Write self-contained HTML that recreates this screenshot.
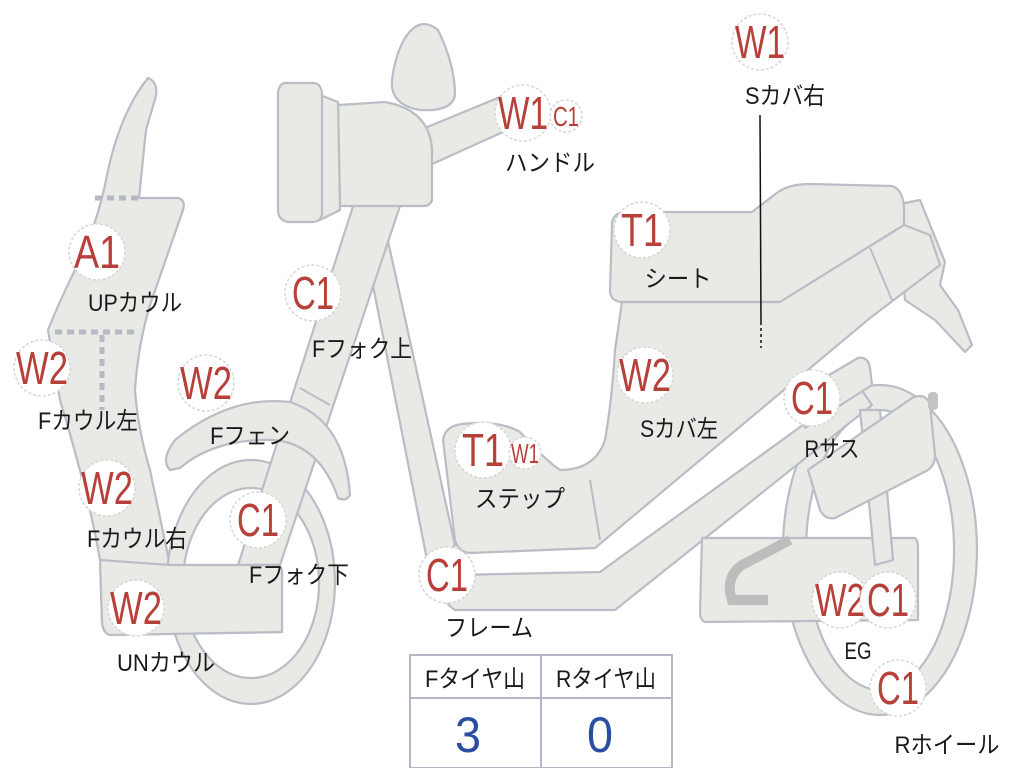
<!DOCTYPE html>
<html><head><meta charset="utf-8"><style>
html,body{margin:0;padding:0;background:#fff;}
svg{display:block;}
.s{fill:#e9e9e5;stroke:#b9bdc6;stroke-width:2.2;stroke-linejoin:round;}
.b{fill:#fff;stroke:#d6d6d6;stroke-width:1.5;stroke-dasharray:3 2;}
.r{fill:#b8403a;font-family:"Liberation Sans",sans-serif;font-size:46px;text-anchor:middle;}
.rs{fill:#b8403a;font-family:"Liberation Sans",sans-serif;font-size:28px;text-anchor:middle;}
.l{fill:#1a1a1a;font-family:"Liberation Sans","Noto Sans CJK JP",sans-serif;font-size:24px;text-anchor:middle;}
.n{fill:#2a4ea0;font-family:"Liberation Sans",sans-serif;font-size:50px;text-anchor:middle;}
</style></head><body>
<svg width="1024" height="768" viewBox="0 0 1024 768" xmlns="http://www.w3.org/2000/svg">
<path class="s" fill-rule="evenodd" d="M880,385 a97,165 0 1,1 -0.1,0 Z M880,410 a74,140 0 1,0 0.1,0 Z"/>
<path class="s" d="M895,205 L920,200 L945,262 L940,285 L958,310 L972,345 L965,352 L935,320 L905,300 Z"/>
<path class="s" d="M612,225 Q612,212 628,212 L752,212 L778,192 Q790,184 810,184 L892,186 Q905,190 904,215 L904,225 L780,302 L620,302 Q610,300 610,290 Z"/>
<path class="s" d="M622,302 L780,302 L904,225 L930,235 L940,265 L870,318 L595,548 L470,553 Q458,552 455,540 L443,440 Q445,426 462,424 Q500,420 520,432 Q545,460 560,470 Q595,470 605,440 Q612,400 615,350 Z"/>
<line x1="870" y1="248" x2="892" y2="300" stroke="#b9bdc6" stroke-width="2"/>
<line x1="590" y1="480" x2="600" y2="540" stroke="#b9bdc6" stroke-width="2"/>
<path class="s" d="M366,250 L386,232 L455,545 L430,575 Z"/>
<path class="s" d="M455,575 L600,572 L858,385 L872,405 L615,610 L455,610 Q440,600 445,585 Z"/>
<path class="s" d="M800,392 L858,358 Q868,356 870,368 L872,385 L805,428 Z"/>
<path class="s" d="M702,538 L915,538 Q918,540 918,548 L918,620 L705,622 Q700,620 700,612 Z"/>
<path d="M790,540 L742,565 Q728,575 730,592 L732,600 L768,600" fill="none" stroke="#bdbdbd" stroke-width="10"/>
<path class="s" d="M860,410 L880,410 L893,560 L875,565 Z"/>
<path class="s" d="M808,470 L912,398 Q925,392 930,404 L935,455 Q935,465 928,470 L835,518 Q825,520 820,510 Z"/>
<rect x="928" y="392" width="10" height="18" rx="4" fill="#c4c4c4"/>
<path class="s" d="M148,78 Q158,82 156,96 L146,130 L139,198 L178,198 Q186,200 183,210 L150,305 Q138,345 135,390 Q138,430 150,470 L170,565 L278,565 Q282,567 282,572 L282,632 L110,635 Q103,633 102,622 L100,560 Q90,500 60,400 L48,330 Q60,300 75,270 Q95,230 105,185 Q118,115 148,78 Z"/>
<g stroke="#b5b9c4" stroke-width="5" stroke-dasharray="7 5" fill="none">
<line x1="95" y1="198" x2="140" y2="198"/>
<line x1="55" y1="332" x2="138" y2="332"/>
<line x1="102" y1="335" x2="102" y2="410"/>
</g>
<path class="s" fill-rule="evenodd" d="M251,460 a84,122 0 1,1 -0.1,0 Z M251,488 a68,95 0 1,0 0.1,0 Z"/>
<path class="s" d="M355,200 L402,200 L280,565 L238,565 Z"/>
<line x1="300" y1="388" x2="330" y2="405" stroke="#b9bdc6" stroke-width="2"/>
<path class="s" d="M170,470 Q160,460 175,440 Q230,395 290,402 Q345,420 350,495 Q346,502 338,498 Q320,445 275,440 Q215,438 180,468 Z"/>
<path class="s" d="M170,565 L278,565 Q282,567 282,572 L282,632 L110,635 Q103,633 102,622 L100,560 Z"/>
<path class="s" d="M420,130 L505,95 L512,128 L430,165 Z"/>
<path class="s" d="M405,38 Q420,15 438,30 Q455,65 455,95 Q452,112 420,110 Q390,105 392,80 Q395,55 405,38 Z"/>
<path class="s" d="M338,105 L385,102 Q430,110 432,150 L432,200 Q430,206 424,206 L340,206 Z"/>
<path class="s" d="M320,95 L338,102 L340,210 L320,220 Z"/>
<path class="s" d="M285,83 L315,83 Q322,85 322,95 L322,215 Q320,222 312,222 L288,222 Q278,220 278,210 L278,92 Q280,83 285,83 Z"/>
<line x1="760" y1="115" x2="761" y2="325" stroke="#111" stroke-width="1.5"/>
<line x1="761" y1="328" x2="761" y2="348" stroke="#111" stroke-width="1.5" stroke-dasharray="3 3"/>
<g>
<circle class="b" cx="760" cy="42" r="28"/><text class="r" x="760" y="58" textLength="50" lengthAdjust="spacingAndGlyphs">W1</text>
<circle class="b" cx="523" cy="113" r="28"/><text class="r" x="523" y="129" textLength="50" lengthAdjust="spacingAndGlyphs">W1</text>
<circle class="b" cx="566" cy="116" r="16"/><text class="rs" x="566" y="126" textLength="26" lengthAdjust="spacingAndGlyphs">C1</text>
<circle class="b" cx="97" cy="252" r="28"/><text class="r" x="97" y="268" textLength="46" lengthAdjust="spacingAndGlyphs">A1</text>
<circle class="b" cx="313" cy="293" r="28"/><text class="r" x="313" y="309" textLength="42" lengthAdjust="spacingAndGlyphs">C1</text>
<circle class="b" cx="42" cy="368" r="28"/><text class="r" x="42" y="384" textLength="52" lengthAdjust="spacingAndGlyphs">W2</text>
<circle class="b" cx="206" cy="383" r="28"/><text class="r" x="206" y="399" textLength="52" lengthAdjust="spacingAndGlyphs">W2</text>
<circle class="b" cx="642" cy="230" r="28"/><text class="r" x="642" y="246" textLength="42" lengthAdjust="spacingAndGlyphs">T1</text>
<circle class="b" cx="645" cy="375" r="28"/><text class="r" x="645" y="391" textLength="52" lengthAdjust="spacingAndGlyphs">W2</text>
<circle class="b" cx="812" cy="398" r="28"/><text class="r" x="812" y="414" textLength="42" lengthAdjust="spacingAndGlyphs">C1</text>
<circle class="b" cx="483" cy="450" r="28"/><text class="r" x="483" y="466" textLength="42" lengthAdjust="spacingAndGlyphs">T1</text>
<circle class="b" cx="525" cy="453" r="16"/><text class="rs" x="525" y="463" textLength="28" lengthAdjust="spacingAndGlyphs">W1</text>
<circle class="b" cx="107" cy="488" r="28"/><text class="r" x="107" y="504" textLength="52" lengthAdjust="spacingAndGlyphs">W2</text>
<circle class="b" cx="258" cy="520" r="28"/><text class="r" x="258" y="536" textLength="42" lengthAdjust="spacingAndGlyphs">C1</text>
<circle class="b" cx="447" cy="575" r="28"/><text class="r" x="447" y="591" textLength="42" lengthAdjust="spacingAndGlyphs">C1</text>
<circle class="b" cx="136" cy="608" r="28"/><text class="r" x="136" y="624" textLength="52" lengthAdjust="spacingAndGlyphs">W2</text>
<circle class="b" cx="840" cy="600" r="28"/><text class="r" x="840" y="616" textLength="50" lengthAdjust="spacingAndGlyphs">W2</text>
<circle class="b" cx="888" cy="600" r="28"/><text class="r" x="888" y="616" textLength="42" lengthAdjust="spacingAndGlyphs">C1</text>
<circle class="b" cx="898" cy="688" r="28"/><text class="r" x="898" y="704" textLength="42" lengthAdjust="spacingAndGlyphs">C1</text>
</g>
<g>
<text class="l" x="785" y="104" textLength="80" lengthAdjust="spacingAndGlyphs">Sカバ右</text>
<text class="l" x="550" y="171" textLength="90" lengthAdjust="spacingAndGlyphs">ハンドル</text>
<text class="l" x="135" y="311" textLength="94" lengthAdjust="spacingAndGlyphs">UPカウル</text>
<text class="l" x="362" y="357" textLength="100" lengthAdjust="spacingAndGlyphs">Fフォク上</text>
<text class="l" x="88" y="429" textLength="100" lengthAdjust="spacingAndGlyphs">Fカウル左</text>
<text class="l" x="250" y="444" textLength="80" lengthAdjust="spacingAndGlyphs">Fフェン</text>
<text class="l" x="678" y="287" textLength="67" lengthAdjust="spacingAndGlyphs">シート</text>
<text class="l" x="679" y="437" textLength="78" lengthAdjust="spacingAndGlyphs">Sカバ左</text>
<text class="l" x="832" y="457" textLength="55" lengthAdjust="spacingAndGlyphs">Rサス</text>
<text class="l" x="520" y="507" textLength="90" lengthAdjust="spacingAndGlyphs">ステップ</text>
<text class="l" x="137" y="547" textLength="100" lengthAdjust="spacingAndGlyphs">Fカウル右</text>
<text class="l" x="299" y="583" textLength="100" lengthAdjust="spacingAndGlyphs">Fフォク下</text>
<text class="l" x="489" y="636" textLength="88" lengthAdjust="spacingAndGlyphs">フレーム</text>
<text class="l" x="166" y="671" textLength="98" lengthAdjust="spacingAndGlyphs">UNカウル</text>
<text class="l" x="858" y="659" textLength="27" lengthAdjust="spacingAndGlyphs">EG</text>
<text class="l" x="947" y="753" textLength="105" lengthAdjust="spacingAndGlyphs">Rホイール</text>
</g>
<rect x="410" y="655" width="262" height="113" fill="#fff" stroke="#b3b7c6" stroke-width="2"/>
<line x1="410" y1="698" x2="672" y2="698" stroke="#b3b7c6" stroke-width="2"/>
<line x1="541" y1="655" x2="541" y2="768" stroke="#b3b7c6" stroke-width="2"/>
<text class="l" x="475" y="687" textLength="100" lengthAdjust="spacingAndGlyphs">Fタイヤ山</text>
<text class="l" x="606" y="687" textLength="100" lengthAdjust="spacingAndGlyphs">Rタイヤ山</text>
<text class="n" x="468" y="752" textLength="26" lengthAdjust="spacingAndGlyphs">3</text>
<text class="n" x="600" y="752" textLength="26" lengthAdjust="spacingAndGlyphs">0</text>
</svg>
</body></html>
